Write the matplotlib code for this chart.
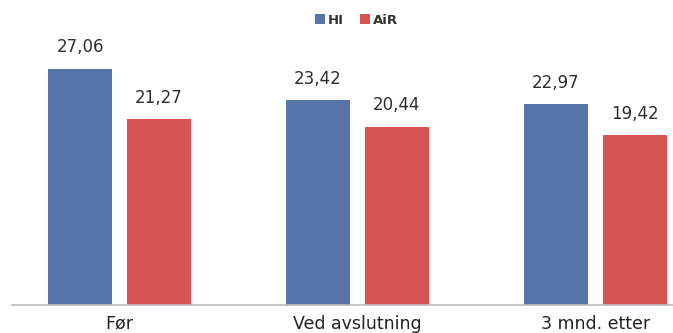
import matplotlib
matplotlib.use("Agg")
import matplotlib.pyplot as plt
import numpy as np

categories = ["Før", "Ved avslutning", "3 mnd. etter"]
series_names = ["HI", "AiR"]
hi_values = [27.06, 23.42, 22.97]
air_values = [21.27, 20.44, 19.42]
colors = ["#5874A8", "#D65452"]

plt.rcParams["font.family"] = ["DejaVu Sans"]

fig = plt.figure(figsize=(6.73, 3.33), dpi=100)
ax = fig.add_axes([12 / 673, 28 / 333, 1 - 12 / 673, 0.826])

x = np.arange(len(categories))
width = 0.27
offset = 0.166

for vals, name, col, sign in zip([hi_values, air_values], series_names, colors, [-1, 1]):
    bars = ax.bar(x + sign * offset, vals, width, color=col, label=name)
    for b, v in zip(bars, vals):
        ax.annotate(f"{v:.2f}".replace(".", ","),
                    (b.get_x() + b.get_width() / 2, v),
                    xytext=(0, 9), textcoords="offset points",
                    ha="center", va="bottom", fontsize=12, color="#2E2E2E")

ax.set_xlim(-0.452, 2.326)
ax.set_ylim(0, 31.5)
ax.set_xticks(x)
ax.set_xticklabels(categories, fontsize=12.5, color="#222222")
ax.tick_params(axis="x", length=0, pad=7)
ax.set_yticks([])
for s in ["top", "right", "left"]:
    ax.spines[s].set_visible(False)
ax.spines["bottom"].set_color("#BBBBBB")
ax.spines["bottom"].set_linewidth(1.2)

leg = fig.legend(loc="upper center", bbox_to_anchor=(0.53, 0.995), ncol=2, frameon=False,
                 handlelength=0.75, handleheight=0.75, handletextpad=0.25, columnspacing=1.2,
                 prop={"size": 9.5, "weight": "bold"})
for t in leg.get_texts():
    t.set_color("#333333")

fig.savefig("out.png", dpi=100)
